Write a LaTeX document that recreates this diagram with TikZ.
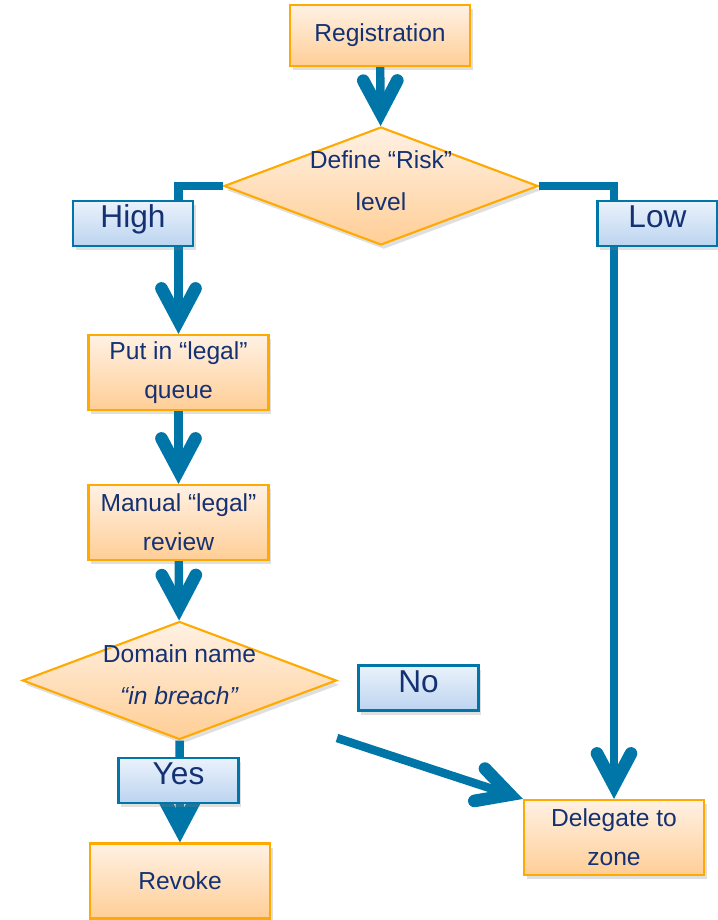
\documentclass[tikz,border=0pt]{standalone}
\usepackage{fontspec}
\setmainfont{Liberation Sans}
\usetikzlibrary{arrows.meta,positioning,shapes.geometric,shadows}
\definecolor{flowblue}{RGB}{0,118,168}
\definecolor{textnavy}{RGB}{20,50,115}
\definecolor{boxorange}{RGB}{255,170,0}
\definecolor{boxtop}{RGB}{255,241,228}
\definecolor{boxbottom}{RGB}{255,206,150}
\definecolor{tagtop}{RGB}{234,242,251}
\definecolor{tagbottom}{RGB}{188,212,240}

\begin{document}
\begin{tikzpicture}[x=0.025cm, y=-0.025cm,
    every node/.style={text=textnavy},
    procbox/.style={draw=boxorange, line width=1.5pt, top color=boxtop, bottom color=boxbottom,
        minimum width=4.5cm, minimum height=1.875cm, inner sep=0pt, align=center,
        font=\fontsize{17.5}{28}\selectfont,
        drop shadow={shadow xshift=2pt, shadow yshift=-3pt, opacity=0.25}},
    decision/.style={diamond, draw=boxorange, line width=1.5pt, top color=boxtop, bottom color=boxbottom,
        minimum width=7.85cm, minimum height=2.95cm, inner sep=0pt,
        drop shadow={shadow xshift=2pt, shadow yshift=-3pt, opacity=0.25}},
    decisiontext/.style={align=center, inner sep=0pt, yshift=4pt,
        font=\fontsize{17.5}{30}\selectfont},
    tagbox/.style={draw=flowblue, line width=1.5pt, top color=tagtop, bottom color=tagbottom,
        minimum width=3cm, minimum height=1.125cm, inner sep=0pt,
        text height=16pt, text depth=10pt,
        font=\fontsize{22.5}{22.5}\selectfont,
        drop shadow={shadow xshift=2pt, shadow yshift=-3pt, opacity=0.25}},
    flow/.style={draw=flowblue, line width=6pt},
    flowarrow/.style={flow, -{Straight Barb[length=0.8cm,width=0.85cm,line width=3pt 1,
        line cap=round,line join=miter]}}]

    \useasboundingbox (0,0) rectangle (717,920);

    % Process boxes and decisions
    \node[procbox, minimum height=1.525cm] (reg) at (380,35.5) {Registration};
    \node[decision, label={[decisiontext]center:Define “Risk”\\level}] (risk) at (381,186) {};
    \node[procbox] (queue) at (178.5,372.5) {Put in “legal”\\queue};
    \node[procbox] (review) at (178.5,522.5) {Manual “legal”\\review};
    \node[decision, label={[decisiontext]center:Domain name\\\textit{“in breach”}}] (breach) at (179.5,680.5) {};
    \node[procbox] (revoke) at (180,881) {Revoke};
    \node[procbox] (deleg) at (614,837.5) {Delegate to\\zone};
    \coordinate (nostart) at (337,738);

    % Connectors
    \draw[flowarrow] (reg) -- (risk);
    \draw[flowarrow] (risk.west) -| (queue.north);
    \draw[flowarrow] (risk.east) -| (deleg.north);
    \draw[flowarrow] (queue) -- (review);
    \draw[flowarrow] (review) -- (breach);
    \draw[flowarrow] (breach) -- (revoke);
    \draw[flowarrow] (nostart) -- (deleg.north west);

    % Branch labels
    \node[tagbox] (high) at (133,223.5) {High};
    \node[tagbox] (low) at (657.5,223.5) {Low};
    \node[tagbox] (no) at (418.5,688) {No};
    \node[tagbox] (yes) at (178.5,780.5) {Yes};
\end{tikzpicture}
\end{document}
